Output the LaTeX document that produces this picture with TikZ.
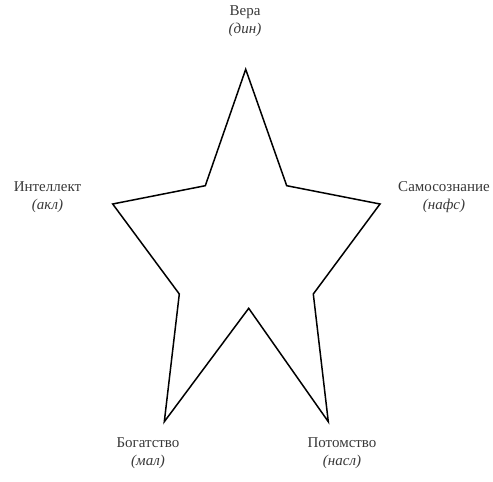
\documentclass[tikz,border=0pt]{standalone}
\usepackage{fontspec}
\setmainfont{Liberation Serif}
\begin{document}
\begin{tikzpicture}[x=1pt, y=-1pt,
    pillar/.style={align=center, text=black!78, font=\fontsize{15}{17.5}\selectfont, inner sep=0pt}]
    % Frame
    \useasboundingbox (0,0) rectangle (493,482);
    % Star - five outer tips and five inner corners
    \draw[line width=1.5pt, line join=miter] (245.7,69.3) -- (286.7,185.7) -- (380,204)
        -- (313.3,294) -- (328.3,421.7) -- (248.7,308.3) -- (164.3,421.7)
        -- (179.3,294) -- (112.7,204) -- (205.3,185.7) -- cycle;

    % Labels at the tips
    \node[pillar] (vera) at (245,21) {Вера\\\textit{(дин)}};
    \node[pillar] (intellekt) at (47.5,197) {Интеллект\\\textit{(акл)}};
    \node[pillar] (samo) at (444,197) {Самосознание\\\textit{(нафс)}};
    \node[pillar] (bogatstvo) at (148,453) {Богатство\\\textit{(мал)}};
    \node[pillar] (potomstvo) at (342,453) {Потомство\\\textit{(насл)}};
\end{tikzpicture}
\end{document}
